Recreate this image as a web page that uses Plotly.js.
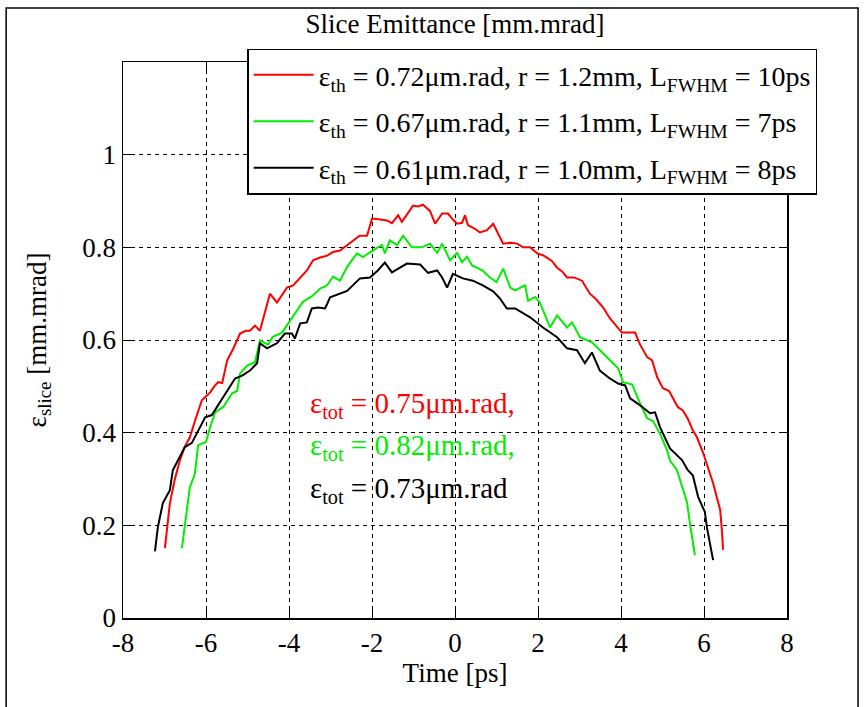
<!DOCTYPE html>
<html>
<head>
<meta charset="utf-8">
<script src="https://cdn.plot.ly/plotly-3.0.1.min.js"></script>
<style>
html,body{margin:0;padding:0;background:#fff;}
#chart{width:865px;height:707px;}
</style>
</head>
<body>
<div id="chart"></div>
<script>
// Red series: eps_th = 0.72
var redTime = [-6.99,-6.93,-6.87,-6.75,-6.63,-6.51,-6.39,-6.25,-6.10,-5.98,-5.90,-5.80,-5.71,-5.61,-5.49,-5.35,-5.18,-5.04,-4.94,-4.82,-4.70,-4.58,-4.46,-4.29,-4.05,-3.90,-3.73,-3.57,-3.42,-3.25,-3.08,-2.94,-2.77,-2.60,-2.46,-2.30,-2.12,-2.00,-1.80,-1.64,-1.52,-1.37,-1.28,-1.12,-1.01,-0.89,-0.77,-0.60,-0.48,-0.31,-0.17,-0.05,0.05,0.17,0.24,0.31,0.48,0.60,0.77,0.92,1.04,1.16,1.35,1.50,1.64,1.81,1.98,2.12,2.24,2.34,2.46,2.58,2.70,2.87,3.06,3.16,3.25,3.40,3.57,3.73,3.88,4.02,4.15,4.34,4.46,4.53,4.63,4.75,4.87,5.01,5.16,5.25,5.37,5.49,5.61,5.73,5.83,5.98,6.10,6.22,6.31,6.39,6.43,6.46];
var redEmit = [0.151,0.20,0.248,0.30,0.34,0.37,0.39,0.43,0.47,0.48,0.487,0.50,0.509,0.507,0.556,0.58,0.614,0.62,0.62,0.631,0.620,0.660,0.700,0.681,0.713,0.718,0.735,0.750,0.772,0.778,0.782,0.790,0.793,0.805,0.815,0.825,0.825,0.862,0.860,0.858,0.852,0.869,0.855,0.875,0.890,0.888,0.892,0.878,0.851,0.873,0.873,0.860,0.851,0.853,0.869,0.848,0.840,0.832,0.837,0.851,0.830,0.808,0.810,0.808,0.800,0.800,0.787,0.783,0.776,0.770,0.756,0.748,0.735,0.735,0.728,0.712,0.700,0.688,0.670,0.647,0.630,0.616,0.616,0.616,0.590,0.578,0.563,0.556,0.520,0.496,0.490,0.475,0.455,0.448,0.430,0.405,0.390,0.356,0.325,0.291,0.260,0.233,0.190,0.147];

// Green series: eps_th = 0.67
var greenTime = [-6.58,-6.52,-6.46,-6.39,-6.27,-6.19,-6.00,-5.90,-5.78,-5.59,-5.37,-5.25,-5.18,-5.01,-4.82,-4.75,-4.70,-4.51,-4.39,-4.17,-4.02,-3.86,-3.66,-3.45,-3.25,-3.08,-2.94,-2.77,-2.60,-2.36,-2.22,-1.98,-1.76,-1.69,-1.57,-1.40,-1.25,-1.04,-0.80,-0.60,-0.43,-0.31,-0.12,0.05,0.17,0.29,0.41,0.67,0.84,1.00,1.16,1.33,1.45,1.69,1.76,1.93,2.05,2.29,2.46,2.70,2.82,3.01,3.30,3.57,3.81,3.93,4.05,4.27,4.46,4.63,4.77,4.94,5.11,5.18,5.35,5.47,5.59,5.66,5.78];
var greenEmit = [0.151,0.19,0.233,0.282,0.31,0.373,0.38,0.412,0.444,0.455,0.485,0.490,0.528,0.545,0.552,0.580,0.599,0.590,0.607,0.616,0.636,0.657,0.683,0.694,0.711,0.718,0.737,0.728,0.758,0.787,0.779,0.793,0.805,0.787,0.815,0.805,0.825,0.800,0.800,0.808,0.788,0.808,0.772,0.788,0.768,0.780,0.761,0.750,0.735,0.725,0.754,0.713,0.707,0.718,0.685,0.693,0.680,0.627,0.653,0.627,0.638,0.606,0.595,0.571,0.550,0.539,0.509,0.504,0.463,0.431,0.425,0.398,0.362,0.340,0.319,0.282,0.250,0.205,0.136];

// Black series: eps_th = 0.61
var blackTime = [-7.23,-7.16,-7.04,-6.87,-6.80,-6.63,-6.51,-6.34,-6.22,-6.02,-5.86,-5.66,-5.42,-5.30,-5.13,-4.94,-4.77,-4.70,-4.53,-4.29,-4.10,-3.93,-3.86,-3.73,-3.57,-3.45,-3.30,-3.13,-3.01,-2.77,-2.60,-2.29,-2.05,-1.86,-1.69,-1.52,-1.33,-1.16,-0.84,-0.65,-0.43,-0.31,-0.19,-0.05,0.19,0.43,0.67,0.92,1.08,1.25,1.45,1.81,2.12,2.46,2.70,2.94,3.13,3.30,3.49,3.73,3.93,4.10,4.22,4.46,4.70,4.82,4.94,5.06,5.18,5.47,5.61,5.73,5.86,6.02,6.07,6.14,6.22];
var blackEmit = [0.144,0.196,0.248,0.276,0.319,0.347,0.369,0.378,0.399,0.433,0.438,0.466,0.502,0.517,0.523,0.534,0.550,0.593,0.582,0.593,0.614,0.614,0.603,0.636,0.638,0.668,0.670,0.668,0.692,0.700,0.706,0.733,0.735,0.750,0.767,0.746,0.756,0.765,0.763,0.745,0.750,0.735,0.713,0.743,0.733,0.728,0.718,0.705,0.690,0.668,0.668,0.649,0.627,0.606,0.582,0.578,0.550,0.573,0.534,0.517,0.506,0.502,0.474,0.459,0.442,0.444,0.412,0.390,0.366,0.341,0.319,0.308,0.261,0.229,0.196,0.162,0.125];

var legendNames = [
  "ε<sub>th</sub> = 0.72μm.rad, r = 1.2mm, L<sub>FWHM</sub> = 10ps",
  "ε<sub>th</sub> = 0.67μm.rad, r = 1.1mm, L<sub>FWHM</sub> = 7ps",
  "ε<sub>th</sub> = 0.61μm.rad, r = 1.0mm, L<sub>FWHM</sub> = 8ps"
];
var totLabels = [
  "ε<sub>tot</sub> = 0.75μm.rad,",
  "ε<sub>tot</sub> = 0.82μm.rad,",
  "ε<sub>tot</sub> = 0.73μm.rad"
];
var totY = [0.46, 0.37, 0.277];
var xTicks = [-8,-6,-4,-2,0,2,4,6,8];
var yTicks = [0,0.2,0.4,0.6,0.8,1];
var yTickText = ["0","0.2","0.4","0.6","0.8","1"];

var FONT = "Liberation Serif, Times New Roman, serif";
var colors = ["#ff0000", "#00ee00", "#000000"];

var traces = [
  {x: redTime, y: redEmit, name: legendNames[0]},
  {x: greenTime, y: greenEmit, name: legendNames[1]},
  {x: blackTime, y: blackEmit, name: legendNames[2]}
].map(function(t, i){
  t.type = "scatter"; t.mode = "lines";
  t.line = {color: colors[i], width: 2};
  t.legendgroup = "g" + i;
  return t;
});

var annotations = totLabels.map(function(txt, i){
  return {x: -3.55, y: totY[i], xref: "x", yref: "y", text: txt, showarrow: false,
          xanchor: "left", yanchor: "middle", font: {family: FONT, size: 29, color: colors[i]}};
});

var layout = {
  width: 865, height: 707,
  margin: {l: 123, r: 78, t: 62, b: 89},
  paper_bgcolor: "#fff", plot_bgcolor: "#fff",
  font: {family: FONT, size: 27, color: "#000"},
  title: {text: "Slice Emittance [mm.mrad]", font: {family: FONT, size: 27, color: "#000"},
          x: 0.5, xref: "paper", y: 1 - 24/707, yref: "container", yanchor: "middle"},
  xaxis: {range: [-8, 8], tickvals: xTicks, ticktext: xTicks.map(String),
          ticks: "inside", ticklen: 8, tickcolor: "#000", mirror: "ticks",
          showline: true, linecolor: "#000", linewidth: 1.5,
          showgrid: true, gridcolor: "#000", gridwidth: 1, griddash: "4px,4px",
          zeroline: false, tickfont: {family: FONT, size: 27, color: "#000"},
          title: {text: "Time [ps]", font: {family: FONT, size: 27, color: "#000"}, standoff: 0}},
  yaxis: {range: [0, 1.2], tickvals: yTicks, ticktext: yTickText,
          ticks: "inside", ticklen: 8, tickcolor: "#000", mirror: "ticks",
          showline: true, linecolor: "#000", linewidth: 1.5,
          showgrid: true, gridcolor: "#000", gridwidth: 1, griddash: "4px,4px",
          zeroline: false, tickfont: {family: FONT, size: 27, color: "#000"},
          title: {text: "ε<sub>slice</sub> [mm.mrad]", font: {family: FONT, size: 27, color: "#000"}, standoff: 28}},
  legend: {x: 0.187, y: 1.024, xanchor: "left", yanchor: "top",
           bgcolor: "#fff", bordercolor: "#000", borderwidth: 1.5,
           itemwidth: 60, tracegroupgap: 7,
           font: {family: FONT, size: 28, color: "#000"}},
  annotations: annotations,
  shapes: [{type: "rect", xref: "paper", yref: "paper",
            x0: -0.176, x1: 1.107, y0: -0.2, y1: 1.097,
            line: {color: "#000", width: 1.5}, fillcolor: "rgba(0,0,0,0)"}]
};

Plotly.newPlot("chart", traces, layout, {displayModeBar: false, staticPlot: true});
</script>
</body>
</html>
